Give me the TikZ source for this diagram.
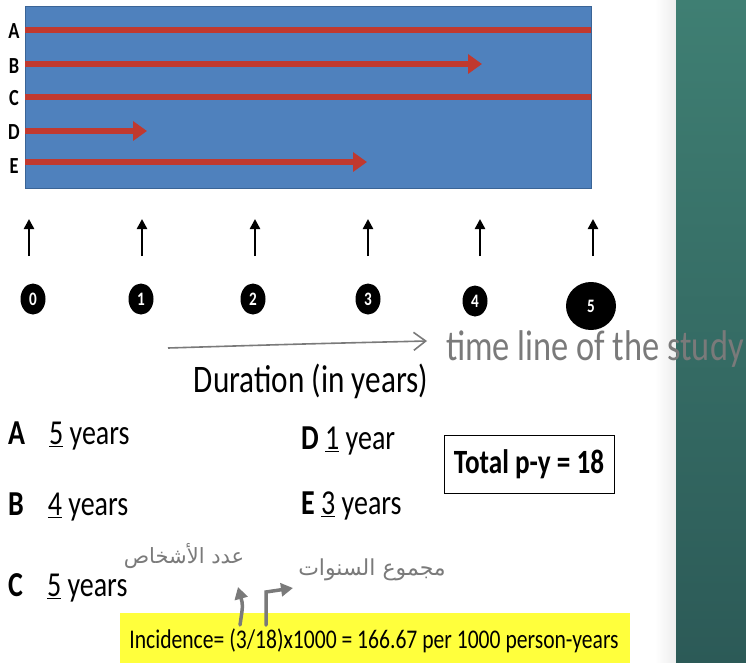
\documentclass[tikz,border=0pt]{standalone}
\usepackage{fontspec}
\setmainfont{Carlito}[FakeStretch=0.8]
\newfontfamily\handfont{Carlito}[FakeStretch=0.8]
\newfontfamily\arabicfont[Script=Arabic]{DejaVu Sans}
\TeXXeTstate=1
\usetikzlibrary{arrows.meta,shapes.geometric}
\definecolor{panelblue}{HTML}{4F81BD}
\definecolor{panelborder}{HTML}{3A6496}
\definecolor{redline}{HTML}{C0392F}
\definecolor{teal1}{HTML}{3F7F73}
\definecolor{teal2}{HTML}{2C5A57}
\definecolor{hand}{HTML}{7A7A7A}
\definecolor{hiyellow}{HTML}{FFFF3C}
\tikzset{
  redarrow/.style={draw=redline,line width=6.5pt,-{Triangle[width=19pt,length=14pt]}},
  redbar/.style={draw=redline,line width=6.5pt},
  rowlabel/.style={font=\bfseries\fontsize{23}{23}\selectfont,anchor=center,inner sep=0pt},
  uparrow/.style={draw=black,line width=2.4pt,-{Triangle[width=10pt,length=10pt]}},
  yearball/.style={ellipse,fill=black,minimum width=25pt,minimum height=31pt,inner sep=0pt,text=white,font=\bfseries\fontsize{19}{19}\selectfont},
  durtext/.style={anchor=west,inner sep=0pt,font=\fontsize{35}{35}\selectfont},
  handarrow/.style={draw=hand,line width=1.6pt,-{Straight Barb[length=12pt,width=18pt,line width=1.6pt]}},
  handtext/.style={text=hand,inner sep=0pt,font=\handfont\fontsize{43}{43}\selectfont},
  thickgray/.style={draw=hand,line width=3.5pt,line cap=round,-{Triangle[width=13pt,length=12pt]}},
}
\begin{document}
\begin{tikzpicture}[x=1pt,y=-1pt]
\useasboundingbox (0,0) rectangle (746,663);
\fill[white] (0,0) rectangle (746,663);
% right panel
\shade[left color=white,right color=black!7] (655,0) rectangle (676,663);
\shade[top color=teal1,bottom color=teal2] (676,0) rectangle (746,663);
% blue panel
\node[draw=panelborder,fill=panelblue,line width=1pt,minimum width=566pt,minimum height=182pt,anchor=north west,inner sep=0pt] (panel) at (25,6) {};
% rows
\coordinate (aS) at (25,30);  \coordinate (aE) at (591,30);
\coordinate (bS) at (25,64);  \coordinate (bE) at (482,64);
\coordinate (cS) at (25,97);  \coordinate (cE) at (591,97);
\coordinate (dS) at (25,131); \coordinate (dE) at (147,131);
\coordinate (eS) at (25,162); \coordinate (eE) at (367,162);
\draw[redbar] (aS) -- (aE);
\draw[redarrow] (bS) -- (bE);
\draw[redbar] (cS) -- (cE);
\draw[redarrow] (dS) -- (dE);
\draw[redarrow] (eS) -- (eE);
\node[rowlabel] (la) at (14,31) {A};
\node[rowlabel] (lb) at (14,66) {B};
\node[rowlabel] (lc) at (14,98) {C};
\node[rowlabel] (ld) at (14,132) {D};
\node[rowlabel] (le) at (14,166) {E};
% up arrows and year balls
\foreach \i/\x in {0/29,1/142,2/255,3/368,4/480,5/593}{
  \coordinate (ut\i) at (\x,219);
  \coordinate (ub\i) at (\x,256);
  \draw[uparrow] (ub\i) -- (ut\i);
}
\node[yearball] (y0) at (33,299) {0};
\node[yearball] (y1) at (141,299) {1};
\node[yearball] (y2) at (253,299) {2};
\node[yearball] (y3) at (368,299) {3};
\node[yearball] (y4) at (475,301) {4};
\node[yearball,minimum width=50pt,minimum height=48pt] (y5) at (591,306) {5};
% hand timeline
\coordinate (hs) at (168,348);
\coordinate (he) at (427,341);
\draw[handarrow] (hs) .. controls (300,344) .. (he);
\node[handtext,anchor=west] (tl) at (446,349) {time line of the study};
\node[durtext,anchor=center,font=\fontsize{39}{39}\selectfont] (dur) at (311,381) {Duration (in years)};
% durations
\node[durtext] (da) at (8,436) {\textbf{A}\hspace{24pt}\underline{5} years};
\node[durtext] (db) at (8,507) {\textbf{B}\hspace{24pt}\underline{4} years};
\node[durtext] (dc) at (8,588) {\textbf{C}\hspace{24pt}\underline{5} years};
\node[durtext] (dd) at (301,441) {\textbf{D} \underline{1} year};
\node[durtext] (de) at (301,506) {\textbf{E} \underline{3} years};
\node[draw=black,line width=1pt,minimum width=170pt,minimum height=58pt,inner sep=0pt,font=\bfseries\fontsize{34}{34}\selectfont] (tot) at (529,464) {Total p-y = 18};
% arabic notes
\node[text=hand,inner sep=0pt,font=\arabicfont\fontsize{21}{21}\selectfont] (ar1) at (184,556) {\beginR عدد الأشخاص\endR};
\node[text=hand,inner sep=0pt,font=\arabicfont\fontsize{22}{22}\selectfont] (ar2) at (372,570) {\beginR مجموع السنوات\endR};
% incidence
\node[fill=hiyellow,minimum width=510pt,minimum height=50pt,inner sep=0pt,anchor=north west] (inc) at (120,613) {};
\node[inner sep=0pt,font=\fontsize{27}{27}\selectfont] (inct) at (374,641) {Incidence= (3/18)x1000 = 166.67 per 1000 person-years};
% gray pointer arrows
\coordinate (p1s) at (240,625);
\coordinate (p1e) at (238,587);
\draw[thickgray] (p1s) .. controls (243,605) .. (p1e);
\coordinate (p2s) at (266,625);
\coordinate (p2m) at (266,592);
\coordinate (p2e) at (293,588);
\draw[thickgray] (p2s) -- (p2m) -- (p2e);
\end{tikzpicture}
\end{document}
